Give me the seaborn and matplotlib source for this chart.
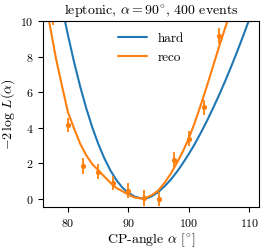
import matplotlib
matplotlib.use("Agg")
import matplotlib.pyplot as plt
import seaborn as sns
import pandas as pd

# ---- data ----
alpha_grid = [76, 77, 78, 79, 80, 81, 82, 83, 84, 85, 86, 87, 88, 89, 90, 91, 92, 93,
              94, 95, 96, 97, 98, 99, 100, 101, 102, 103, 104, 105, 106, 107, 108,
              109, 110]
hard_vals = [16.2, 14.4, 12.6, 10.8, 9.19, 7.69, 6.33, 5.11, 4.03, 3.09, 2.28, 1.60, 1.05,
             0.62, 0.33, 0.12, 0.02, 0.015, 0.157, 0.39, 0.70, 1.07, 1.50, 1.99, 2.52,
             3.09, 3.72, 4.38, 5.09, 5.83, 6.61, 7.43, 8.28, 9.17, 10.09]
reco_vals = [11.6, 9.75, 7.9, 6.35, 4.85, 3.95, 3.1, 2.45, 1.95, 1.6, 1.25, 0.9, 0.6,
             0.42, 0.22, 0.07, 0.01, 0.06, 0.22, 0.48, 0.9, 1.4, 2.0, 2.65, 3.4,
             4.3, 5.3, 6.35, 7.45, 8.55, 9.6, 10.65, 11.7, 12.75, 13.8]

point_alpha = [77.5, 80, 82.5, 85, 87.5, 90, 92.5, 95, 97.5, 100, 102.5, 105]
point_vals = [10.45, 4.15, 1.84, 1.52, 0.87, 0.45, 0.04, 0.0, 2.2, 3.36, 5.14, 9.15]
point_err = [0.7, 0.38, 0.47, 0.42, 0.4, 0.42, 0.43, 0.4, 0.42, 0.42, 0.44, 0.45]

title = r"leptonic, $\alpha = 90^{\circ}$, 400 events"
xlabel = r"CP-angle $\alpha$ [$^{\circ}$]"
ylabel = r"$-2\,\log\,L(\alpha)$"
xticks = [80, 90, 100, 110]
yticks = [0, 2, 4, 6, 8, 10]

sns.set_style("ticks")
plt.rcParams.update({
    "font.family": ["serif"],
    "font.serif": ["cmr10", "DejaVu Serif"],
    "mathtext.fontset": "cm",
    "axes.formatter.use_mathtext": True,
    "axes.unicode_minus": False,
    "axes.edgecolor": "black",
    "xtick.color": "black",
    "ytick.color": "black",
    "text.color": "black",
    "axes.labelcolor": "black",
})

df_hard = pd.DataFrame({"alpha": alpha_grid, "val": hard_vals})
df_reco = pd.DataFrame({"alpha": alpha_grid, "val": reco_vals})

fig = plt.figure(figsize=(2.66, 2.50), dpi=100)
ax = fig.add_axes([0.162, 0.172, 0.812, 0.744])

sns.lineplot(data=df_hard, x="alpha", y="val", ax=ax, color="C0", lw=1.5, label="hard")
sns.lineplot(data=df_reco, x="alpha", y="val", ax=ax, color="C1", lw=1.5, label="reco")
ax.errorbar(point_alpha, point_vals, yerr=point_err, fmt=".", color="C1",
            ms=5.5, elinewidth=1.3, capsize=0)

ax.set_xlim(75.875, 111.625)
ax.set_ylim(-0.47, 10)
ax.set_xticks(xticks)
ax.set_yticks(yticks)
ax.tick_params(labelsize=8.6, length=3.5, width=0.8)
for s in ax.spines.values():
    s.set_linewidth(0.8)
    s.set_color("black")

ax.set_title(title, fontsize=10, pad=4)
ax.set_xlabel(xlabel, fontsize=10, labelpad=2)
ax.set_ylabel(ylabel, fontsize=10, labelpad=2)
ax.legend(loc="upper center", frameon=False, fontsize=9.5, handlelength=2.2)

fig.savefig("out.png", dpi=100)
